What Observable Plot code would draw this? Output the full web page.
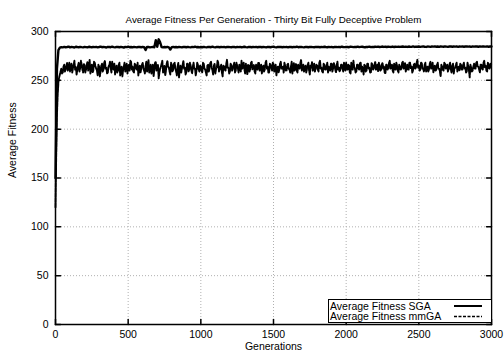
<!DOCTYPE html>
<html><head><meta charset="utf-8">
<script src="https://cdn.jsdelivr.net/npm/d3@7"></script>
<script src="https://cdn.jsdelivr.net/npm/@observablehq/plot@0.6"></script>
<style>
body{margin:0;background:#fff;}
#wrap{position:relative;width:504px;height:356px;font-family:"Liberation Sans",Arial,sans-serif;}
#legend{position:absolute;left:328px;top:299px;width:162px;height:22px;border:1px solid #000;background:#fff;font-size:10.5px;color:#000;}
#legend .row{position:absolute;left:1px;height:10px;line-height:10px;white-space:nowrap;}
#legend svg{position:absolute;left:0;top:0;}
</style></head><body><div id="wrap"></div>
<script>
const title = "Average Fitness Per Generation - Thirty Bit Fully Deceptive Problem";
const xLabel = "Generations";
const yLabel = "Average Fitness";
const seriesNames = ["Average Fitness SGA", "Average Fitness mmGA"];
const xTicks = [0, 500, 1000, 1500, 2000, 2500, 3000];
const yTicks = [0, 50, 100, 150, 200, 250, 300];

// SGA: generations 0, 10, 20, ... 3000
const sga = [
150, 262, 281, 283.5, 284, 283.8, 284.3, 283.9, 284.1, 284.5, 283.7, 284.2, 284, 283.6, 284.4, 284.1, 283.9, 284.3, 284, 283.8,
284.2, 284, 283.7, 284.4, 284.1, 283.9, 284.3, 284, 284.2, 283.8, 284.1, 284.5, 283.9, 284.2, 284, 283.6, 284.3, 284.1, 283.9, 284.4,
284, 283.8, 284.2, 284.1, 283.9, 284.3, 284, 283.5, 284.2, 284, 284.4, 283.9, 284.1, 283.7, 284.2, 284, 283.8, 284.3, 284.1, 283.9,
284.2, 284, 281, 284.3, 284.1, 283.8, 284, 284.2, 283.9, 291, 284.3, 292, 289, 284, 283.7, 284.1, 283.9, 284.2, 283.8, 281.5,
284, 284.2, 283.9, 284.1, 283.8, 284.3, 284, 283.7, 284.2, 284.1, 283.9, 284.3, 284, 283.8, 284.2, 284, 284.4, 283.9, 284.1, 283.8,
284.1, 283.9, 284.3, 284, 283.8, 284.2, 284.1, 283.9, 284.4, 284, 283.7, 284.2, 284.1, 283.9, 284.3, 284, 284.2, 283.8, 284.1, 284.3,
284, 283.9, 284.2, 284.1, 283.8, 284.3, 284, 284.2, 283.9, 284.1, 284.4, 284, 283.8, 284.2, 284.1, 283.9, 284.3, 284, 284.2, 283.9,
284.1, 284.3, 283.9, 284.2, 284, 283.8, 284.3, 284.1, 283.9, 284.2, 284.4, 284, 283.7, 284.2, 284.1, 284.3, 283.9, 284.1, 284, 284.2,
283.8, 284.3, 284.1, 283.9, 284.2, 284, 284.4, 283.9, 284.1, 284.3, 284, 283.8, 284.2, 284.1, 283.9, 284.3, 284.2, 284, 283.9, 284.2,
284.1, 284.3, 283.9, 284.2, 284, 284.4, 284.1, 283.9, 284.3, 284, 284.2, 283.8, 284.1, 284.3, 284, 284.2, 283.9, 284.4, 284.1, 284,
284.3, 284.1, 283.9, 284.4, 284.2, 284, 284.3, 284.1, 284.5, 284, 284.2, 284.4, 284.1, 283.9, 284.3, 284.2, 284.5, 284, 284.3, 284.1,
284.4, 284.2, 284.5, 284.1, 284.3, 284.6, 284.2, 284.4, 284.1, 284.5, 284.3, 284.2, 284.6, 284.1, 284.4, 284.3, 284.5, 284.2, 284.4, 284.6,
284.3, 284.5, 284.2, 284.6, 284.4, 284.3, 284.7, 284.2, 284.5, 284.4, 284.6, 284.3, 284.5, 284.7, 284.4, 284.2, 284.6, 284.5, 284.3, 284.6,
284.5, 284.7, 284.4, 284.6, 284.3, 284.8, 284.5, 284.4, 284.7, 284.5, 284.3, 284.6, 284.8, 284.4, 284.6, 284.5, 284.7, 284.3, 284.6, 284.5,
284.7, 284.4, 284.6, 284.8, 284.5, 284.6, 284.3, 284.7, 284.5, 284.8, 284.6, 284.4, 284.7, 284.5, 284.8, 284.6, 284.5, 284.7, 284.4, 284.6,
284.6
];

// mmGA at generations 0, 10, 20, ... 3000
const mmgaEven = [
120, 215, 248, 256, 262, 258, 266, 261, 268, 263, 259, 267, 262, 270, 264, 260, 268, 263, 266, 258,
265, 261, 269, 263, 257, 266, 260, 268, 262, 255, 264, 259, 267, 261, 270, 263, 258, 266, 262, 269,
261, 256, 265, 260, 268, 262, 254, 264, 259, 267, 263, 260, 269, 264, 258, 266, 261, 255, 265, 262,
268, 260, 265, 259, 271, 263, 257, 266, 261, 269, 264, 252, 262, 267, 258, 265, 260, 270, 263, 256,
266, 261, 268, 259, 264, 253, 265, 262, 270, 263, 258, 267, 261, 265, 257, 268, 262, 260, 266, 259,
264, 258, 267, 261, 255, 266, 262, 269, 260, 265, 257, 263, 268, 261, 266, 254, 264, 260, 271, 263,
259, 266, 262, 268, 260, 265, 258, 263, 270, 264, 261, 267, 256, 265, 262, 269, 263, 259, 266, 261,
268, 262, 257, 265, 261, 270, 264, 258, 266, 260, 267, 263, 255, 264, 261, 269, 262, 258, 265, 260,
267, 261, 264, 257, 268, 263, 260, 266, 262, 271, 264, 259, 265, 261, 268, 256, 263, 260, 267, 262,
265, 259, 270, 263, 258, 266, 261, 268, 264, 260, 267, 262, 265, 258, 269, 263, 261, 266, 259, 264,
268, 261, 265, 257, 263, 270, 262, 259, 266, 261, 268, 264, 256, 265, 260, 267, 263, 258, 266, 262,
269, 263, 259, 265, 261, 268, 264, 257, 266, 262, 270, 263, 260, 267, 261, 265, 258, 264, 262, 269,
263, 259, 266, 261, 268, 264, 260, 267, 263, 271, 265, 261, 268, 262, 266, 259, 264, 261, 269, 263,
258, 265, 261, 268, 262, 254, 264, 260, 267, 263, 259, 266, 261, 265, 257, 263, 268, 262, 260, 266,
261, 268, 263, 259, 265, 253, 263, 260, 267, 262, 269, 264, 258, 266, 261, 270, 265, 259, 267, 263,
265
];

// mmGA at generations 5, 15, 25, ... 2995
const mmgaOdd = [
175, 235, 253, 259, 257, 264, 259, 265, 260, 268, 262, 258, 266, 261, 256, 265, 259, 270, 261, 267,
258, 266, 260, 271, 262, 258, 269, 264, 260, 266, 254, 265, 259, 268, 262, 257, 264, 269, 258, 265,
267, 262, 258, 266, 255, 264, 260, 268, 263, 257, 266, 270, 261, 259, 267, 262, 268, 260, 258, 266,
262, 257, 269, 263, 258, 266, 261, 254, 268, 260, 266, 258, 264, 270, 261, 255, 267, 264, 259, 268,
259, 267, 262, 255, 268, 261, 258, 266, 262, 256, 267, 259, 268, 260, 264, 262, 255, 268, 261, 265,
260, 268, 262, 258, 265, 259, 268, 263, 256, 267, 262, 270, 259, 264, 258, 265, 261, 267, 263, 257,
267, 260, 265, 258, 268, 262, 266, 259, 262, 268, 257, 262, 266, 259, 268, 261, 266, 257, 263, 268,
260, 266, 263, 259, 268, 262, 258, 267, 263, 268, 259, 266, 262, 258, 267, 262, 264, 268, 260, 266,
262, 258, 269, 262, 260, 267, 258, 264, 268, 260, 266, 262, 258, 266, 260, 265, 269, 262, 259, 266,
261, 268, 262, 259, 267, 261, 265, 258, 262, 267, 259, 268, 261, 266, 261, 259, 266, 262, 268, 260,
262, 266, 258, 268, 261, 264, 258, 266, 262, 268, 259, 262, 266, 259, 267, 262, 258, 268, 261, 266,
261, 266, 268, 260, 266, 262, 258, 266, 261, 268, 262, 266, 258, 262, 268, 260, 266, 261, 268, 262,
268, 262, 261, 268, 262, 258, 266, 262, 268, 263, 260, 268, 262, 259, 268, 262, 259, 267, 262, 268,
263, 260, 266, 262, 259, 266, 261, 268, 262, 266, 261, 268, 258, 267, 262, 266, 259, 264, 267, 261,
266, 262, 258, 268, 260, 266, 259, 264, 262, 268, 264, 261, 266, 262, 268, 263, 260, 268, 262, 267
];

const sgaData = sga.map((v, i) => ({g: i * 10, v}));
const mmData = [];
mmgaEven.forEach((v, i) => {
  mmData.push({g: i * 10, v});
  if (i < mmgaOdd.length) mmData.push({g: i * 10 + 5, v: mmgaOdd[i]});
});

const tickShape = {draw(ctx, l) { ctx.moveTo(0, 0); ctx.lineTo(0, -l); }};
const font = '"Liberation Sans", Arial, sans-serif';
const fmt = d3.format("d");

const chart = Plot.plot({
  width: 504, height: 356,
  marginTop: 31, marginBottom: 32, marginLeft: 55, marginRight: 13,
  style: {fontFamily: font, fontSize: "10.5px", color: "#000", background: "#fff", overflow: "visible"},
  x: {domain: [0, 3000]},
  y: {domain: [0, 300]},
  marks: [
    Plot.gridX(xTicks.slice(1, -1), {stroke: "#b0b0b0", strokeOpacity: 1, strokeDasharray: "1,2"}),
    Plot.gridY(yTicks.slice(1, -1), {stroke: "#b0b0b0", strokeOpacity: 1, strokeDasharray: "1,2"}),
    Plot.line(mmData, {x: "g", y: "v", stroke: "#000", strokeWidth: 1.9, strokeDasharray: "4,1"}),
    Plot.line(sgaData, {x: "g", y: "v", stroke: "#000", strokeWidth: 2.4}),
    Plot.vector(xTicks, {x: d => d, frameAnchor: "bottom", rotate: 0, length: 5, anchor: "start", shape: tickShape, stroke: "#000"}),
    Plot.vector(xTicks, {x: d => d, frameAnchor: "top", rotate: 180, length: 5, anchor: "start", shape: tickShape, stroke: "#000"}),
    Plot.vector(yTicks, {y: d => d, frameAnchor: "left", rotate: 90, length: 5, anchor: "start", shape: tickShape, stroke: "#000"}),
    Plot.vector(yTicks, {y: d => d, frameAnchor: "right", rotate: -90, length: 5, anchor: "start", shape: tickShape, stroke: "#000"}),
    Plot.frame({stroke: "#000", strokeWidth: 1.5}),
    Plot.axisX(xTicks, {tickSize: 0, tickPadding: 6, label: null, tickFormat: fmt, fontSize: 10.5}),
    Plot.axisY(yTicks, {tickSize: 0, tickPadding: 7, label: null, tickFormat: fmt, fontSize: 10.5}),
    Plot.text([title], {frameAnchor: "top", dy: -15, fontSize: 9.8}),
    Plot.text([xLabel], {frameAnchor: "bottom", dy: 25, fontSize: 10.5}),
    Plot.text([yLabel], {frameAnchor: "left", dx: -43, rotate: -90, fontSize: 10.5})
  ]
});

const wrap = document.getElementById("wrap");
wrap.appendChild(chart);

const legend = document.createElement("div");
legend.id = "legend";
legend.innerHTML = `
  <div class="row" style="top:0.5px">${seriesNames[0]}</div>
  <div class="row" style="top:11px">${seriesNames[1]}</div>
  <svg width="162" height="22">
    <line x1="125" x2="153" y1="6" y2="6" stroke="#000" stroke-width="2"/>
    <line x1="125" x2="153" y1="16.5" y2="16.5" stroke="#000" stroke-width="1.5" stroke-dasharray="3,1.5"/>
  </svg>`;
wrap.appendChild(legend);
</script>
</body></html>
